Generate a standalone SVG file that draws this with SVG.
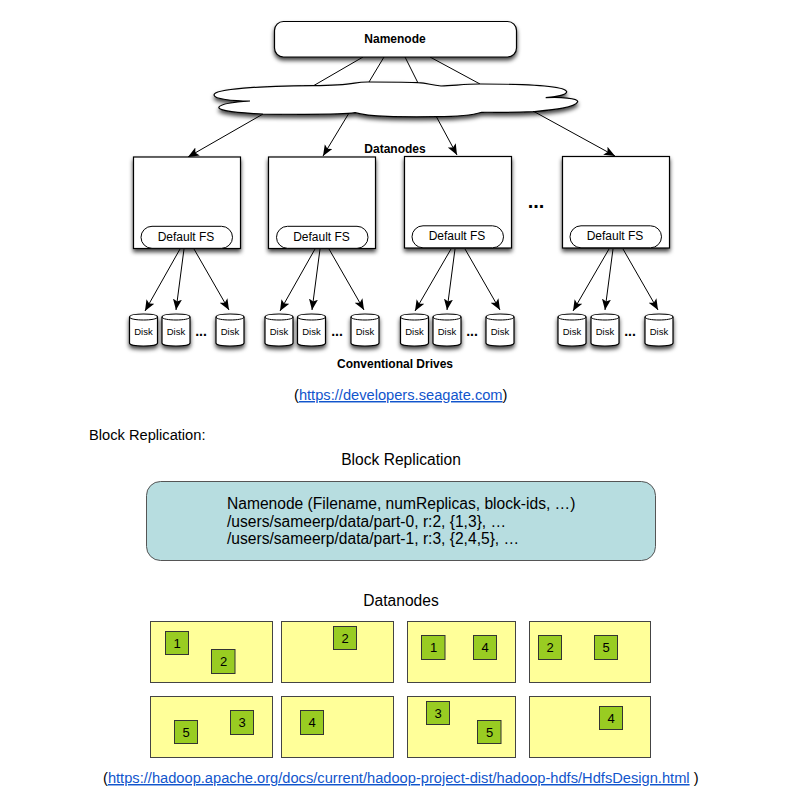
<svg xmlns="http://www.w3.org/2000/svg" width="808" height="789" viewBox="0 0 808 789">
<style>
text{font-family:"Liberation Sans",Arial,sans-serif;fill:#000}
.b{font-weight:bold;font-size:12px;text-anchor:middle}
.s{fill:#fff;stroke:#000;stroke-width:1.2;filter:url(#sh)}
.c{fill:none;stroke:#000;stroke-width:1}
.a{marker-end:url(#ah)}
.fs{fill:#fff;stroke:#000;stroke-width:1}
.fst{font-size:12px;text-anchor:middle}
.dt{font-size:9.5px;text-anchor:middle}
.d3{font-size:14px;font-weight:bold;text-anchor:middle}
.l{font-size:14.67px}
.u{fill:#1155cc;text-decoration:underline}
.t{font-size:15.6px}
.m{text-anchor:middle}
.y{fill:#ffff99;stroke:#444;stroke-width:1}
.g{fill:#99cc22;stroke:#333;stroke-width:1}
.n{font-size:13px;text-anchor:middle}
</style>
<defs>
<filter id="sh" x="-20%" y="-20%" width="140%" height="150%"><feDropShadow dx="0" dy="3" stdDeviation="2.2" flood-color="#000" flood-opacity="0.75"/></filter>
<marker id="ah" markerUnits="userSpaceOnUse" markerWidth="13" markerHeight="11" refX="11" refY="4.500" orient="auto"><path d="M0 0L11 4.500L0 9L2.500 4.500Z" fill="#000"/></marker>
<g id="disk"><path class="s" d="M0 5C0 1 28 1 28 5V31C28 35 0 35 0 31Z"/><path class="c" d="M0 5C0 9 28 9 28 5"/><text class="dt" x="14" y="23">Disk</text></g>
</defs>
<g id="connectors">
<path class="c" d="M363 57L313 86M384 57L369 82M405 57L418 83M430 57L480 84"/>
<path class="c a" d="M263 114L188 157"/><path class="c a" d="M349 113L323 156"/><path class="c a" d="M436 116L457 155"/><path class="c a" d="M533 111L615 156"/>
<path class="c a" d="M180 249L145 311"/><path class="c a" d="M184 249L176 310"/><path class="c a" d="M194 249L229 310"/>
<path class="c a" d="M315 249L280 311"/><path class="c a" d="M320 249L312 310"/><path class="c a" d="M329 249L364 310"/>
<path class="c a" d="M451 249L415 311"/><path class="c a" d="M455 249L447 310"/><path class="c a" d="M465 249L500 310"/>
<path class="c a" d="M609 249L573 311"/><path class="c a" d="M613 249L605 310"/><path class="c a" d="M623 249L658 310"/>
</g>
<g id="namenode"><rect class="s" x="274.500" y="21.500" width="242" height="35.500" rx="9"/><text class="b" x="395" y="43">Namenode</text></g>
<g id="cloud"><path class="s" d="M313 85.700C360 85 350 82 368 82C385 82 410 82 418 82.700C428 83 430 85 441 86C455 85.500 465 84 480 84C525 84 565 86 566.700 91.700C567 95 555 97 545.700 97.700C560 97 578 98 577.700 101.700C575 108 550 110 533 111.700C510 113 495 112 481.700 112.300C470 116 450 116.700 436.700 116.700C400 117 370 117 355 112.700C340 115 300 114.500 263 114C240 113 217 111 219 107C221 104 235 102 250 101C232 101 214 99 214 95C214 89 260 86 313 85.700Z"/></g>
<text class="b" x="395" y="153">Datanodes</text>
<g id="datanode-1"><rect class="s" x="133.500" y="157" width="107" height="91.500"/><rect class="fs" x="141" y="226.300" width="91.500" height="22" rx="11" ry="11"/><text class="fst" x="186" y="240.500">Default FS</text></g>
<g id="datanode-2"><rect class="s" x="268.500" y="157" width="107" height="91.500"/><rect class="fs" x="276.500" y="226.300" width="91.500" height="22" rx="11" ry="11"/><text class="fst" x="321.500" y="240.500">Default FS</text></g>
<g id="datanode-3"><rect class="s" x="404.500" y="156.500" width="107" height="91.500"/><rect class="fs" x="412" y="225.800" width="91.500" height="22" rx="11" ry="11"/><text class="fst" x="457" y="240">Default FS</text></g>
<g id="datanode-4"><rect class="s" x="562.500" y="156.500" width="107" height="91.500"/><rect class="fs" x="570" y="225.800" width="91.500" height="22" rx="11" ry="11"/><text class="fst" x="615" y="240">Default FS</text></g>
<text class="b" x="536" y="208" style="font-size:20px">...</text>
<g id="disks">
<use href="#disk" x="129.500" y="312"/><use href="#disk" x="162" y="312"/><use href="#disk" x="216" y="312"/><text class="d3" x="201" y="336">...</text>
<use href="#disk" x="265" y="312"/><use href="#disk" x="297.500" y="312"/><use href="#disk" x="351" y="312"/><text class="d3" x="337" y="336">...</text>
<use href="#disk" x="400.500" y="312"/><use href="#disk" x="433" y="312"/><use href="#disk" x="486" y="312"/><text class="d3" x="472" y="336">...</text>
<use href="#disk" x="558" y="312"/><use href="#disk" x="591" y="312"/><use href="#disk" x="645" y="312"/><text class="d3" x="630" y="336">...</text>
</g>
<text class="b" x="395" y="368">Conventional Drives</text>
<text class="l" x="294" y="400">(<tspan class="u">https://developers.seagate.com</tspan>)</text>
<text class="l" x="89" y="440">Block Replication:</text>
<text class="t m" x="401" y="465">Block Replication</text>
<g id="replication-box"><rect x="146.500" y="481.500" width="509" height="79" rx="14" fill="#b7dde0" stroke="#555"/>
<text class="t" x="227" y="508.500">Namenode (Filename, numReplicas, block-ids, …)</text>
<text class="t" x="227" y="526.500">/users/sameerp/data/part-0, r:2, {1,3}, …</text>
<text class="t" x="227" y="544">/users/sameerp/data/part-1, r:3, {2,4,5}, …</text></g>
<text class="t m" x="401" y="606">Datanodes</text>
<g id="dn-a"><rect class="y" x="150.500" y="621.500" width="122" height="61"/><rect class="g" x="165.500" y="631.500" width="23" height="23"/><text class="n" x="177" y="647.500">1</text><rect class="g" x="211.500" y="649.500" width="23.500" height="24"/><text class="n" x="223.500" y="665.500">2</text></g>
<g id="dn-b"><rect class="y" x="281.500" y="621.500" width="112" height="61"/><rect class="g" x="333.500" y="626.500" width="23" height="23"/><text class="n" x="345" y="642.500">2</text></g>
<g id="dn-c"><rect class="y" x="407.500" y="621.500" width="108" height="61"/><rect class="g" x="421.500" y="635.500" width="23.500" height="24"/><text class="n" x="433.500" y="651.500">1</text><rect class="g" x="473.500" y="635.500" width="23" height="24"/><text class="n" x="485" y="651.500">4</text></g>
<g id="dn-d"><rect class="y" x="529.500" y="621.500" width="121" height="61"/><rect class="g" x="538.500" y="635.500" width="23" height="24"/><text class="n" x="550" y="651.500">2</text><rect class="g" x="594.500" y="635.500" width="23" height="24"/><text class="n" x="606" y="651.500">5</text></g>
<g id="dn-e"><rect class="y" x="150.500" y="696.500" width="122" height="61"/><rect class="g" x="174.500" y="720.500" width="23" height="23"/><text class="n" x="186" y="736.500">5</text><rect class="g" x="230.500" y="710.500" width="23" height="24"/><text class="n" x="242" y="726.500">3</text></g>
<g id="dn-f"><rect class="y" x="281.500" y="696.500" width="112" height="61"/><rect class="g" x="300.500" y="710.500" width="23" height="24"/><text class="n" x="312" y="726.500">4</text></g>
<g id="dn-g"><rect class="y" x="407.500" y="696.500" width="108" height="61"/><rect class="g" x="426.500" y="701.500" width="23" height="23"/><text class="n" x="438" y="717.500">3</text><rect class="g" x="477.500" y="720.500" width="23.500" height="23"/><text class="n" x="489.500" y="736.500">5</text></g>
<g id="dn-h"><rect class="y" x="529.500" y="696.500" width="121" height="61"/><rect class="g" x="599.500" y="706.500" width="23" height="23"/><text class="n" x="611" y="722.500">4</text></g>
<text class="l" x="103" y="783">(<tspan class="u">https://hadoop.apache.org/docs/current/hadoop-project-dist/hadoop-hdfs/HdfsDesign.html</tspan> )</text>
</svg>
